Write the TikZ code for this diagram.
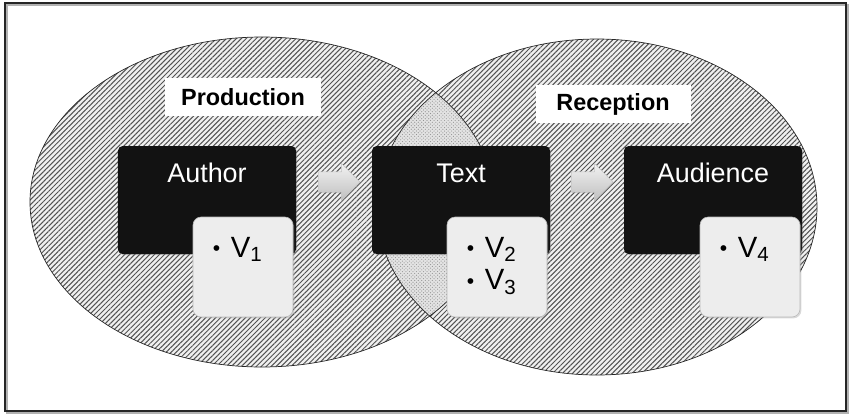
\documentclass[tikz,border=0pt]{standalone}
\usepackage{fontspec}
\setmainfont{Liberation Sans}
\usetikzlibrary{positioning,calc,shapes.arrows,patterns,patterns.meta,shadows}

\newcommand{\vitem}[1]{{\fontsize{18}{18}\selectfont\raisebox{1.5pt}{\textbullet}}\hspace{9pt}V\textsubscript{#1}}

\begin{document}
\begin{tikzpicture}[x=0.03cm,y=-0.03cm,
    hatch/.style={fill=gray!12, postaction={pattern={Lines[angle=45,distance=3pt,line width=0.85pt]}, pattern color=black!68}},
    lensfill/.style={fill=gray!22, postaction={pattern=crosshatch dots, pattern color=gray!85}},
    rim/.style={draw=black!85, line width=0.6pt},
    darkbox/.style={fill=black!93, rounded corners=4pt, minimum width=5.34cm, minimum height=3.24cm,
        drop shadow={opacity=0.35, shadow xshift=1pt, shadow yshift=-1pt}},
    boxlabel/.style={text=white, inner sep=0pt, text height=17pt, font=\fontsize{23}{27}\selectfont},
    notebox/.style={fill=gray!14, draw=gray!55, line width=0.5pt, rounded corners=7pt,
        minimum width=3cm, minimum height=3cm,
        drop shadow={opacity=0.3, shadow xshift=1.2pt, shadow yshift=-1.2pt}},
    notetext/.style={inner sep=0pt, align=left, font=\fontsize{25}{28}\selectfont},
    titlebox/.style={fill=white, inner sep=0pt, minimum width=4.65cm, minimum height=1.13cm,
        font=\bfseries\fontsize{20}{24}\selectfont},
    blockarrow/.style={single arrow, single arrow head extend=0.25cm, inner xsep=0pt, inner ysep=0.3cm,
        minimum height=1.25cm, draw=gray!45,
        shading=axis, top color=gray!10, bottom color=gray!50, shading angle=0,
        drop shadow={opacity=0.25, shadow xshift=0.8pt, shadow yshift=-0.8pt}}]

    \useasboundingbox (0,0) rectangle (850,414);

    % Outer frame
    \draw[gray!60, line width=1.2pt] (7,5) rectangle (848,413);
    \draw[black!85, line width=1.4pt] (5,3) rectangle (846,411);

    % Production and reception ellipses
    \path[hatch] (262,202) ellipse [x radius=232, y radius=165];
    \path[hatch] (597,207) ellipse [x radius=220, y radius=168];

    % Overlap of the two
    \begin{scope}
        \clip (262,202) ellipse [x radius=232, y radius=165];
        \path[lensfill] (597,207) ellipse [x radius=220, y radius=168];
    \end{scope}
    \draw[rim] (262,202) ellipse [x radius=232, y radius=165];
    \draw[rim] (597,207) ellipse [x radius=220, y radius=168];

    % Headings
    \node[titlebox] (prod) at (243,97) {Production};
    \node[titlebox] (recep) at (613,104) {Reception};

    % Stages
    \node[darkbox] (author) at (207,200) {};
    \node[darkbox] (text) at (461,200) {};
    \node[darkbox] (audience) at (713,200) {};
    \node[boxlabel, below=14pt of author.north] (authorlbl) {Author};
    \node[boxlabel, below=14pt of text.north] (textlbl) {Text};
    \node[boxlabel, below=14pt of audience.north] (audiencelbl) {Audience};

    % Arrows between stages
    \node[blockarrow] (arrA) at ($(author.east)!0.5!(text.west)+(0,-18)$) {};
    \node[blockarrow] (arrB) at ($(text.east)!0.5!(audience.west)+(0,-18)$) {};

    % Variables
    \node[notebox] (v1) at (243,267) {};
    \node[notebox] (v23) at (497,267) {};
    \node[notebox] (v4) at (750,267) {};
    \node[notetext, below right=17pt and 17pt of v1.north west] (v1txt) {\vitem{1}};
    \node[notetext, below right=17pt and 17pt of v23.north west] (v23txt) {\vitem{2}\\\vitem{3}};
    \node[notetext, below right=17pt and 17pt of v4.north west] (v4txt) {\vitem{4}};

\end{tikzpicture}
\end{document}
